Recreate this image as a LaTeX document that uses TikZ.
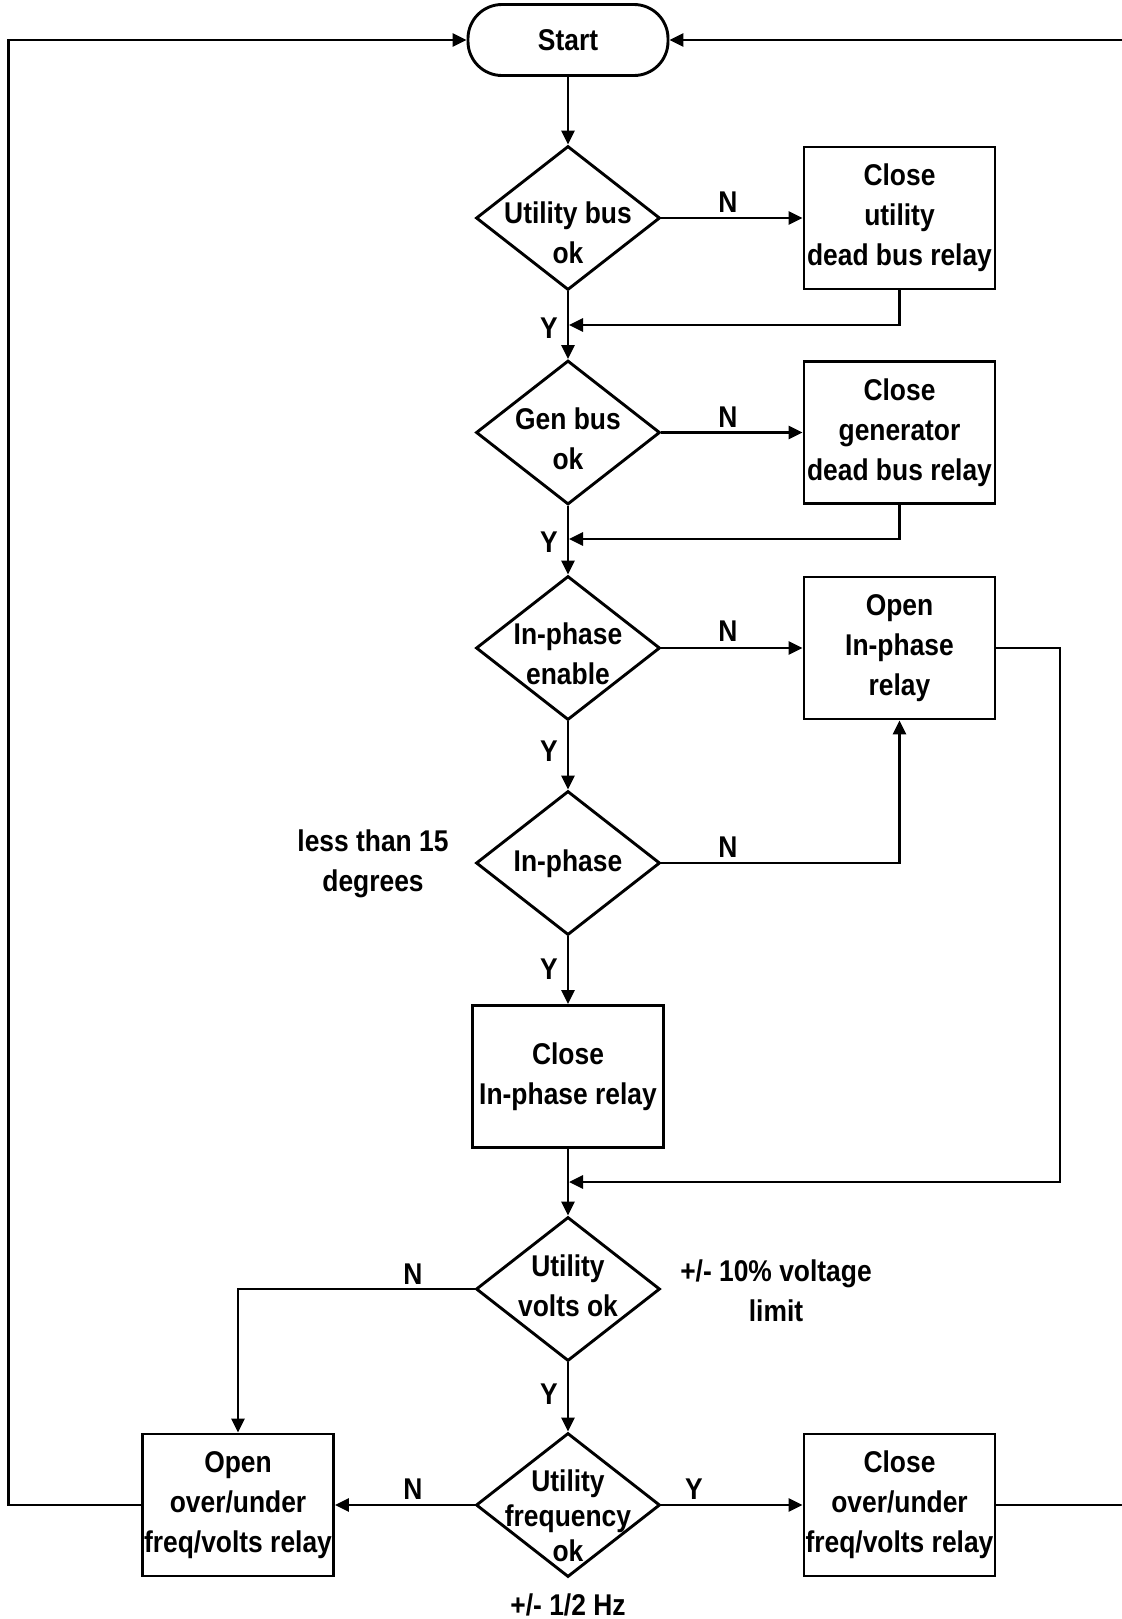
\documentclass[tikz,border=0pt]{standalone}
\usepackage{fontspec}
\setmainfont{Liberation Sans}[FakeStretch=0.88]
\usetikzlibrary{shapes.geometric,arrows.meta}
\begin{document}
\begin{tikzpicture}[x=0.5pt,y=-0.5pt,
  every node/.style={font=\fontsize{15}{20}\selectfont\bfseries},
  lw/.style={line width=1.45pt},
  box/.style={draw, lw, minimum width=95.5pt, minimum height=71pt, inner sep=0pt, align=center},
  dia/.style={draw, lw, shape=diamond, minimum width=92pt, minimum height=72pt, inner sep=0pt},
  txt/.style={align=center, inner sep=0pt},
  arr/.style={lw, -{Triangle[length=7pt,width=6.5pt]}}
]
\useasboundingbox (0,0) rectangle (1122,1619);

% start
\node[draw,lw,rounded corners=17pt,minimum width=100pt,minimum height=35.5pt,inner sep=0pt] (start) at (568,40) {Start};

% decisions
\node[dia] (d1) at (568,218) {};
\node[txt] (t1) at (568,233) {Utility bus\\ok};
\node[dia] (d2) at (568,432.5) {};
\node[txt] (t2) at (568,439) {Gen bus\\ok};
\node[dia] (d3) at (568,648) {};
\node[txt] (t3) at (568,654) {In-phase\\enable};
\node[dia] (d4) at (568,863) {};
\node[txt] (t4) at (568,864) {In-phase};
\node[dia] (d5) at (568,1289) {};
\node[txt] (t5) at (568,1286) {Utility\\volts ok};
\node[dia] (d6) at (568,1505) {};
\node[txt,font=\fontsize{15}{17.5}\selectfont\bfseries] (t6) at (568,1516) {Utility\\frequency\\ok};

% boxes
\node[box] (b1) at (899.5,218) {Close\\utility\\dead bus relay};
\node[box] (b2) at (899.5,432.5) {Close\\generator\\dead bus relay};
\node[box] (b3) at (899.5,648) {Open\\In-phase\\relay};
\node[box] (b4) at (568,1076.5) {Close\\In-phase relay};
\node[box] (b5) at (238,1505) {Open\\over/under\\freq/volts relay};
\node[box] (b6) at (899.5,1505) {Close\\over/under\\freq/volts relay};

% annotations
\node[txt] (a1) at (373,864) {less than 15\\degrees};
\node[txt] (a2) at (776,1291) {+/- 10\% voltage\\limit};
\node[txt] (a3) at (568,1605) {+/- 1/2 Hz};

% helper coordinates
\coordinate (r1) at (569,325);
\coordinate (r2) at (569,539);
\coordinate (k3) at (1060,1182);
\coordinate (r3) at (569,1182);
\coordinate (kl) at (8.6,40);
\coordinate (kr) at (1124,40);

% connectors
\draw[arr] (start) -- (d1.north);
\draw[arr] (d1.east) -- (b1.west);
\draw[arr] (b1.south) |- (r1);
\draw[arr] (d1.south) -- (d2.north);
\draw[arr] (d2.east) -- (b2.west);
\draw[arr] (b2.south) |- (r2);
\draw[arr] (d2.south) -- (d3.north);
\draw[arr] (d3.east) -- (b3.west);
\draw[arr] (d3.south) -- (d4.north);
\draw[arr] (d4.east) -| (b3.south);
\draw[arr] (d4.south) -- (b4.north);
\draw[arr] (b3.east) -| (k3) -- (r3);
\draw[arr] (b4.south) -- (d5.north);
\draw[arr] (d5.west) -| (b5.north);
\draw[arr] (d5.south) -- (d6.north);
\draw[arr] (d6.west) -- (b5.east);
\draw[arr] (d6.east) -- (b6.west);
\draw[arr] (b5.west) -| (kl) -- (start.west);
\draw[arr] (b6.east) -| (kr) -- (start.east);

% branch labels
\node[txt] (n1) at (728,202) {N};
\node[txt] (y1) at (549,328) {Y};
\node[txt] (n2) at (728,417) {N};
\node[txt] (y2) at (549,542) {Y};
\node[txt] (n3) at (728,631) {N};
\node[txt] (y3) at (549,751) {Y};
\node[txt] (n4) at (728,847.5) {N};
\node[txt] (y4) at (549,969) {Y};
\node[txt] (n5) at (413,1274) {N};
\node[txt] (y5) at (549,1394.5) {Y};
\node[txt] (n6) at (413,1489) {N};
\node[txt] (y6) at (694,1489) {Y};
\end{tikzpicture}
\end{document}
